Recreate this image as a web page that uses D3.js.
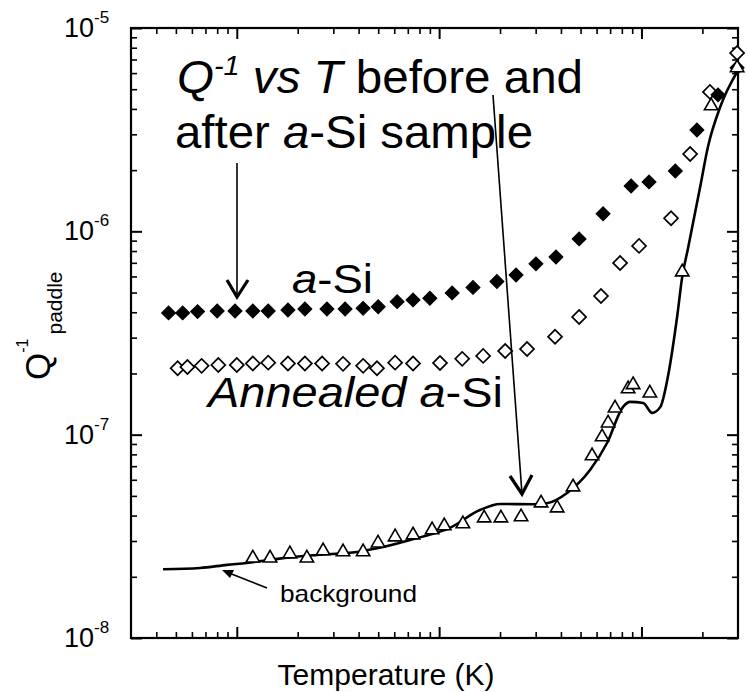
<!DOCTYPE html>
<html><head><meta charset="utf-8">
<script src="https://cdn.jsdelivr.net/npm/d3@7"></script>
<style>body{margin:0;background:#fff}svg{display:block}</style>
</head><body><svg id="c" width="748" height="692"></svg>
<script>
// ---------- DATA ----------
// a-Si (filled diamonds)
const aSiT = [0.46,0.54,0.64,0.80,0.98,1.2,1.43,1.79,2.17,2.79,3.43,4.21,5.0,6.2,7.43,9.0,11.6,14.7,19.3,24,30.1,37.8,49.2,64.6,88.9,109,147,188,239,297];
const aSiQ = [3.97e-7,3.97e-7,4.03e-7,4.06e-7,4.06e-7,4.06e-7,4.06e-7,4.10e-7,4.15e-7,4.15e-7,4.15e-7,4.18e-7,4.26e-7,4.51e-7,4.60e-7,4.69e-7,4.98e-7,5.30e-7,5.67e-7,6.10e-7,6.92e-7,7.48e-7,9.18e-7,1.22e-6,1.67e-6,1.75e-6,1.98e-6,3.15e-6,4.69e-6,6.37e-6];
// Annealed a-Si (open diamonds)
const annT = [0.51,0.57,0.67,0.81,1.0,1.2,1.43,1.79,2.17,2.64,3.35,4.21,4.93,6.06,7.43,10.1,13.0,16.5,21.2,27.2,37.4,49.2,63.1,78.4,97.3,140,174,218,297];
const annQ = [2.12e-7,2.15e-7,2.18e-7,2.20e-7,2.20e-7,2.24e-7,2.26e-7,2.24e-7,2.24e-7,2.24e-7,2.23e-7,2.18e-7,2.12e-7,2.26e-7,2.24e-7,2.25e-7,2.36e-7,2.44e-7,2.58e-7,2.64e-7,3.03e-7,3.79e-7,4.81e-7,6.99e-7,8.48e-7,1.16e-6,2.40e-6,4.85e-6,7.54e-6];
// Bare paddle (open triangles)
const bareT = [1.20,1.46,1.83,2.22,2.67,3.35,4.21,4.99,6.06,7.43,9.23,10.6,13.1,16.7,20.2,25.4,31.9,38.3,45.9,57.0,63.9,68.4,74.0,85.9,90.9,110,159,221,297];
const bareQ = [2.47e-8,2.47e-8,2.59e-8,2.47e-8,2.68e-8,2.65e-8,2.65e-8,2.93e-8,3.14e-8,3.21e-8,3.40e-8,3.56e-8,3.64e-8,3.89e-8,3.89e-8,3.94e-8,4.61e-8,4.36e-8,5.53e-8,7.86e-8,9.75e-8,1.14e-7,1.35e-7,1.68e-7,1.76e-7,1.60e-7,6.31e-7,4.14e-6,6.37e-6];
// Background curve (solid line)
const bgT = [0.432,0.658,0.895,1.12,1.69,2.49,3.93,5.28,7.78,11.3,15.9,20.0,29.1,34.1,42.9,55.7,67.6,81.1,87.9,102,113,124,135,150,159,170,195,213,245,297];
const bgQ = [2.18e-8,2.21e-8,2.29e-8,2.34e-8,2.47e-8,2.56e-8,2.65e-8,2.80e-8,3.10e-8,3.48e-8,4.26e-8,4.56e-8,4.55e-8,4.60e-8,5.17e-8,6.70e-8,9.10e-8,1.37e-7,1.45e-7,1.43e-7,1.28e-7,1.37e-7,1.92e-7,3.79e-7,5.97e-7,8.28e-7,1.65e-6,2.60e-6,4.09e-6,6.08e-6];
// Axes
const xDomain = [0.3, 300];
const yDomain = [1e-8, 1e-5];
const xMajor = [1, 10, 100];
const yMajor = [1e-8, 1e-7, 1e-6, 1e-5];
const yTickExp = ["-8", "-7", "-6", "-5"];

// ---------- CHART ----------
const FONT = "'Liberation Sans', Arial, Helvetica, sans-serif";
const svg = d3.select("#c").style("font-family", FONT);
const L = 131, R = 738, T = 28, B = 638;
const x = d3.scaleLog().domain(xDomain).range([L, R]);
const y = d3.scaleLog().domain(yDomain).range([B, T]);

const isMajor = (v, arr) => arr.some(m => Math.abs(v / m - 1) < 1e-6);
const xMinor = x.ticks().filter(v => !isMajor(v, xMajor) && v > xDomain[0] && v < xDomain[1]);
const yMinor = y.ticks().filter(v => !isMajor(v, yMajor));

function styleAxis(w) {
  return g => {
    g.select(".domain").remove();
    g.selectAll(".tick line").attr("stroke", "#000").attr("stroke-width", w);
    g.selectAll(".tick text").remove();
  };
}
const axes = [
  [d3.axisBottom(x), xMajor, xMinor, `translate(0,${B})`],
  [d3.axisTop(x), xMajor, xMinor, `translate(0,${T})`],
  [d3.axisLeft(y), yMajor, yMinor, `translate(${L},0)`],
  [d3.axisRight(y), yMajor, yMinor, `translate(${R},0)`]
];
axes.forEach(([ax, maj, min, tr]) => {
  svg.append("g").attr("transform", tr)
    .call(ax.tickValues(maj).tickSize(-11).tickFormat("")).call(styleAxis(2));
  svg.append("g").attr("transform", tr)
    .call(ax.tickValues(min).tickSize(-6).tickFormat("")).call(styleAxis(1.6));
});
svg.append("rect").attr("x", L).attr("y", T).attr("width", R - L).attr("height", B - T)
  .attr("fill", "none").attr("stroke", "#000").attr("stroke-width", 2.2);

// Y tick labels
yMajor.forEach((v, i) => {
  const t = svg.append("text").attr("x", 64).attr("y", y(v) + 9)
    .attr("font-size", 27).attr("fill", "#000");
  t.append("tspan").text("10");
  t.append("tspan").attr("dy", -14).attr("font-size", 17).text(yTickExp[i]);
});

// Axis titles
svg.append("text").attr("x", 386).attr("y", 685).attr("text-anchor", "middle")
  .attr("font-size", 30).attr("fill", "#000").attr("textLength", 217)
  .attr("lengthAdjust", "spacingAndGlyphs").text("Temperature (K)");
const yl = svg.append("text").attr("transform", "translate(50,380) rotate(-90)")
  .attr("font-size", 35).attr("fill", "#000");
yl.append("tspan").text("Q");
yl.append("tspan").attr("dy", -22).attr("font-size", 16).text("-1");
yl.append("tspan").attr("dy", 34).attr("dx", 4).attr("font-size", 21).text("paddle");

// Background curve
const line = d3.line().x(d => x(d[0])).y(d => y(d[1])).curve(d3.curveMonotoneX);
svg.append("path").datum(bgT.map((t, i) => [t, bgQ[i]]))
  .attr("d", line).attr("fill", "none").attr("stroke", "#000").attr("stroke-width", 2.6);

// Markers
const diamond = d3.symbol().type(d3.symbolSquare).size(98)();
const tri = d3.symbol().type(d3.symbolTriangle).size(78)();
svg.append("g").selectAll("path").data(annT.map((t, i) => [t, annQ[i]])).join("path")
  .attr("d", diamond)
  .attr("transform", d => `translate(${x(d[0])},${y(d[1])}) rotate(45)`)
  .attr("fill", "#fff").attr("stroke", "#000").attr("stroke-width", 1.7);
svg.append("g").selectAll("path").data(aSiT.map((t, i) => [t, aSiQ[i]])).join("path")
  .attr("d", diamond)
  .attr("transform", d => `translate(${x(d[0])},${y(d[1])}) rotate(45)`)
  .attr("fill", "#000").attr("stroke", "#000").attr("stroke-width", 1);
svg.append("g").selectAll("path").data(bareT.map((t, i) => [t, bareQ[i]])).join("path")
  .attr("d", tri)
  .attr("transform", d => `translate(${x(d[0])},${y(d[1])})`)
  .attr("fill", "#fff").attr("stroke", "#000").attr("stroke-width", 1.6);

// Annotations
const t1 = svg.append("text").attr("x", 177).attr("y", 93).attr("font-size", 46)
  .attr("fill", "#000").attr("textLength", 406).attr("lengthAdjust", "spacingAndGlyphs");
t1.append("tspan").attr("font-style", "italic").text("Q");
t1.append("tspan").attr("font-style", "italic").attr("font-size", 28).attr("dy", -18).text("-1");
t1.append("tspan").attr("font-style", "italic").attr("dy", 18).text(" vs T");
t1.append("tspan").text(" before and");
const t2 = svg.append("text").attr("x", 175).attr("y", 148).attr("font-size", 46)
  .attr("fill", "#000").attr("textLength", 358).attr("lengthAdjust", "spacingAndGlyphs");
t2.append("tspan").text("after ");
t2.append("tspan").attr("font-style", "italic").text("a");
t2.append("tspan").text("-Si sample");

const t3 = svg.append("text").attr("x", 292).attr("y", 293).attr("font-size", 41)
  .attr("fill", "#000").attr("textLength", 81).attr("lengthAdjust", "spacingAndGlyphs");
t3.append("tspan").attr("font-style", "italic").text("a");
t3.append("tspan").text("-Si");
const t4 = svg.append("text").attr("x", 208).attr("y", 407).attr("font-size", 42)
  .attr("fill", "#000").attr("textLength", 295).attr("lengthAdjust", "spacingAndGlyphs");
t4.append("tspan").attr("font-style", "italic").text("Annealed a");
t4.append("tspan").text("-Si");
svg.append("text").attr("x", 280).attr("y", 602).attr("font-size", 24).attr("fill", "#000")
  .attr("textLength", 137).attr("lengthAdjust", "spacingAndGlyphs").text("background");

// arrows
svg.append("line").attr("x1", 237).attr("y1", 163).attr("x2", 237).attr("y2", 297)
  .attr("stroke", "#000").attr("stroke-width", 1.6);
svg.append("polyline").attr("points", "227,280 237,297 248,280")
  .attr("fill", "none").attr("stroke", "#000").attr("stroke-width", 3.2);
svg.append("line").attr("x1", 493).attr("y1", 95).attr("x2", 522).attr("y2", 494)
  .attr("stroke", "#000").attr("stroke-width", 1.6);
svg.append("polyline").attr("points", "510,476 522,494 532,475")
  .attr("fill", "none").attr("stroke", "#000").attr("stroke-width", 3.2);
svg.append("line").attr("x1", 267).attr("y1", 588).attr("x2", 229).attr("y2", 573)
  .attr("stroke", "#000").attr("stroke-width", 1.6);
svg.append("path").attr("d", "M222,570 L234,570 L230,578 Z").attr("fill", "#000");
</script></body></html>
